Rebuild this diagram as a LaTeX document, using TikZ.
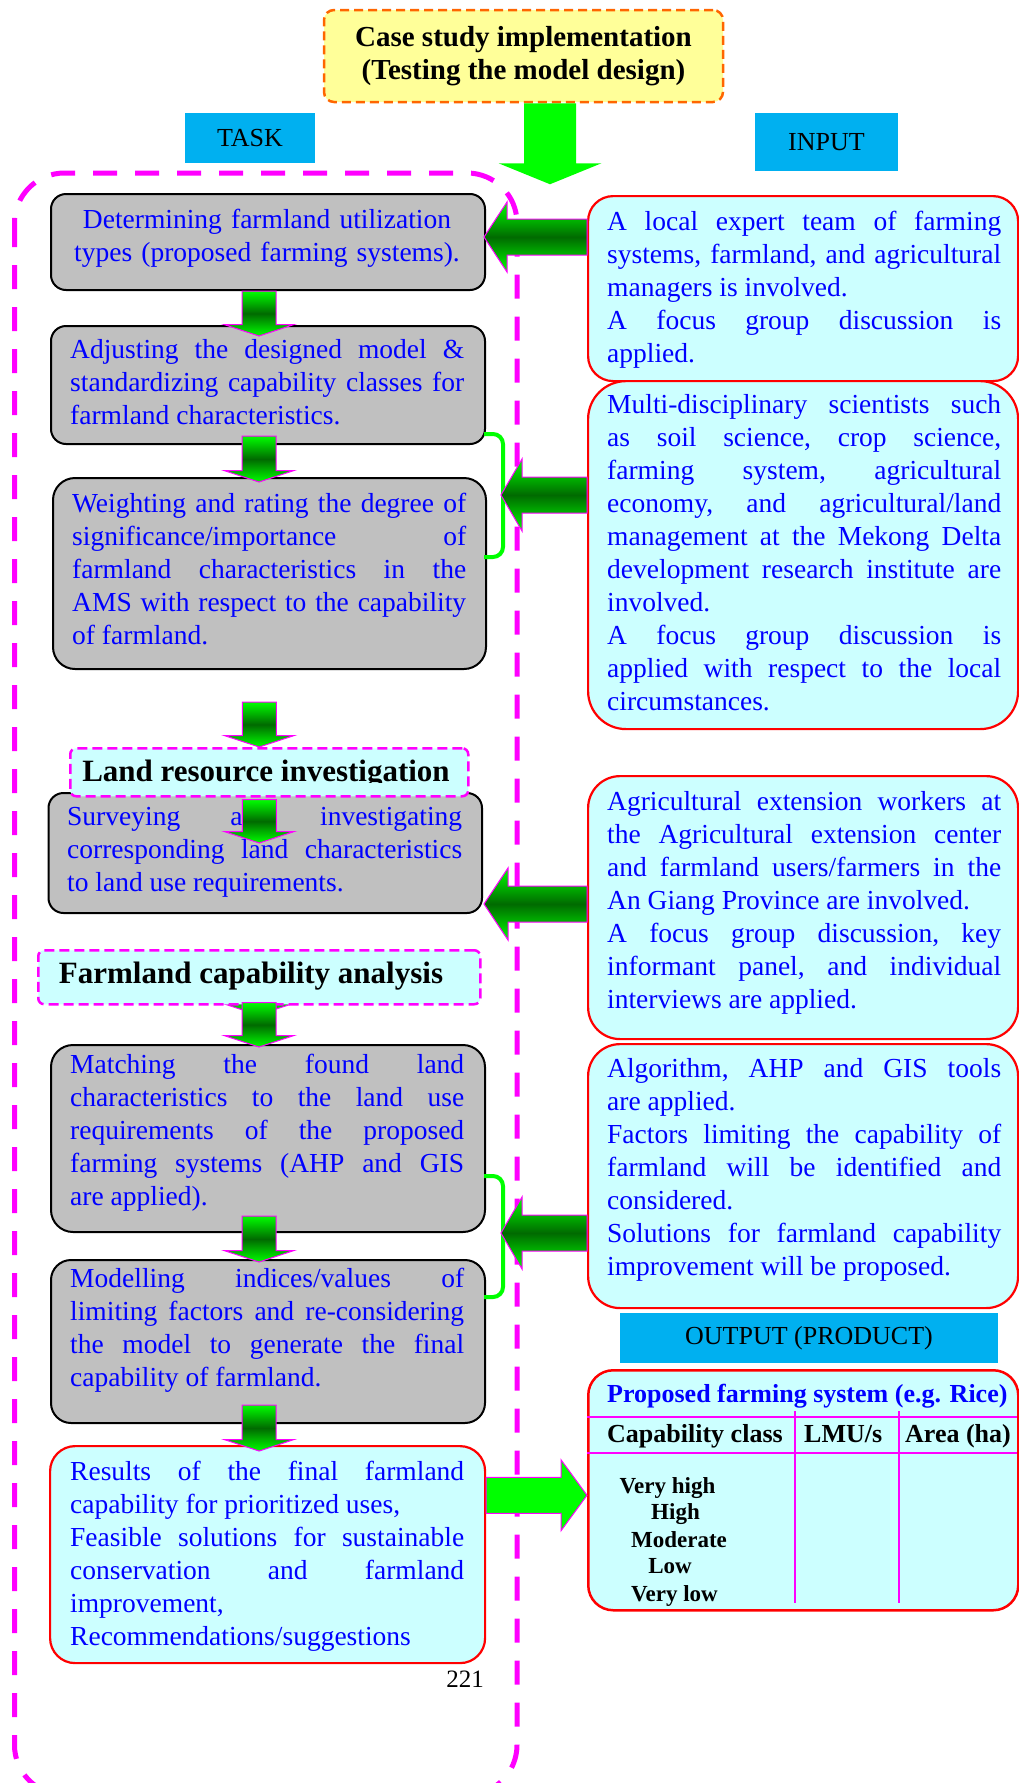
\documentclass[tikz,border=0pt]{standalone}
\usepackage{fontspec}
\setmainfont{Liberation Serif}
\usetikzlibrary{calc}

\definecolor{boxgray}{HTML}{C0C0C0}
\definecolor{paleCyan}{HTML}{CCFFFF}
\definecolor{labelBlue}{HTML}{00B0F0}
\definecolor{paleYellow}{HTML}{FFFF99}
\definecolor{dashOrange}{HTML}{FF6600}
\definecolor{brightGreen}{HTML}{00FF00}
\definecolor{deepGreen}{HTML}{006A00}
\definecolor{textBlue}{HTML}{0000FF}
\definecolor{frameMagenta}{HTML}{FF00FF}

\newcommand{\txtbody}{\fontsize{27.5}{33}\selectfont\frenchspacing\tolerance=10000\hbadness=10000\hyphenpenalty=10000}

% block arrow pointing down: style, top point, tip, shaft half width, head half width, head length
\newcommand{\fatdown}[6]{%
  \path[#1] let \p1=#2, \p2=#3 in
    (\x2-#4,\y1) -- (\x2+#4,\y1) -- (\x2+#4,\y2+#6) -- (\x2+#5,\y2+#6)
    -- (\x2,\y2) -- (\x2-#5,\y2+#6) -- (\x2-#4,\y2+#6) -- cycle;}
% block arrow pointing left: style, tail point, tip, shaft half width, head half width, head length
\newcommand{\fatleft}[6]{%
  \path[#1] let \p1=#2, \p2=#3 in
    (\x1,\y2+#4) -- (\x2+#6,\y2+#4) -- (\x2+#6,\y2+#5) -- (\x2,\y2)
    -- (\x2+#6,\y2-#5) -- (\x2+#6,\y2-#4) -- (\x1,\y2-#4) -- cycle;}
% block arrow pointing right
\newcommand{\fatright}[6]{%
  \path[#1] let \p1=#2, \p2=#3 in
    (\x1,\y2+#4) -- (\x2-#6,\y2+#4) -- (\x2-#6,\y2+#5) -- (\x2,\y2)
    -- (\x2-#6,\y2-#5) -- (\x2-#6,\y2-#4) -- (\x1,\y2-#4) -- cycle;}

\tikzset{
  outerframe/.style={draw=frameMagenta, line width=5pt, dash pattern=on 24pt off 18pt, rounded corners=50pt},
  topbox/.style={draw=dashOrange, line width=2.5pt, dash pattern=on 9pt off 5pt, fill=paleYellow,
    rounded corners=10pt, inner sep=0pt, align=center, font=\fontsize{29}{33}\selectfont\bfseries},
  tag/.style={fill=labelBlue, inner sep=0pt, font=\fontsize{26}{30}\selectfont},
  graybox/.style={draw=black, line width=2pt, fill=boxgray, rounded corners=15pt, inner sep=0pt, anchor=north west},
  inbox/.style={draw=red, line width=2.2pt, fill=paleCyan, inner sep=0pt, anchor=north west},
  phaselabel/.style={draw=frameMagenta, line width=2.5pt, dash pattern=on 10pt off 5pt, fill=paleCyan,
    rounded corners=6pt, inner sep=0pt, anchor=north west},
  phasetext/.style={anchor=base, inner sep=0pt, font=\fontsize{31}{36}\selectfont\bfseries},
  bodytxt/.style={anchor=base west, inner sep=0pt, text width=394pt, align=justify, text=textBlue, font=\txtbody},
  fatarrow/.style={draw=frameMagenta, line width=1pt, top color=brightGreen, bottom color=brightGreen, middle color=deepGreen},
  solidarrow/.style={draw=frameMagenta, line width=1pt, fill=brightGreen},
  solidgreen/.style={fill=brightGreen},
  bracket/.style={draw=brightGreen, line width=4pt, rounded corners=10pt},
  tablerule/.style={draw=frameMagenta, line width=1.6pt},
  headtext/.style={anchor=base west, inner sep=0pt, font=\fontsize{26}{30}\selectfont\bfseries},
  classtext/.style={anchor=base, inner sep=0pt, font=\fontsize{23}{27}\selectfont\bfseries},
}

\begin{document}
\begin{tikzpicture}[x=1pt,y=-1pt]
\useasboundingbox (0,0) rectangle (1019,1783);

% dashed frame around the task column
\draw[outerframe] (14.5,173) rectangle (517,1795);

% heading
\node[topbox, minimum width=399pt, minimum height=92pt] (casestudy) at (523.5,56)
  {Case study implementation\\(Testing the model design)};
\fatdown{solidgreen}{(casestudy.south)}{($(casestudy.south)+(26.5,81)$)}{26pt}{51.5pt}{21pt}

\node[tag, minimum width=130pt, minimum height=50pt] (task) at (250,138) {TASK};
\node[tag, minimum width=143pt, minimum height=58pt] (input) at (826.5,142) {INPUT};

% ---- task column ----
\node[graybox, minimum width=434pt, minimum height=96pt] (b1) at (50,193) {};
\node[bodytxt, anchor=base, align=center] (b1t) at (267,228)
  {Determining farmland utilization\\types (proposed farming systems).};

\node[graybox, minimum width=434pt, minimum height=118pt] (b2) at (50,325) {};
\node[bodytxt] (b2t) at (70,358)
  {Adjusting the designed model \&\linebreak standardizing capability classes for\linebreak farmland characteristics.};

\node[graybox, rounded corners=22pt, minimum width=433pt, minimum height=191pt] (b3) at (52,477) {};
\node[bodytxt] (b3t) at (72,512)
  {Weighting and rating the degree of\linebreak significance/importance of\linebreak farmland characteristics in the\linebreak AMS with respect to the capability\linebreak of farmland.};

\node[graybox, minimum width=433.5pt, minimum height=120pt] (b4) at (47.5,792) {};
\node[bodytxt, text width=395pt] (b4t) at (67,825)
  {Surveying and investigating\linebreak corresponding land characteristics\linebreak to land use requirements.};

\node[phaselabel, minimum width=398pt, minimum height=48pt] (lri) at (69,747) {};
\begin{scope}
  \clip (60,740) rectangle (480,782.5);
  \node[phasetext] (lrit) at (266,781) {Land resource investigation};
\end{scope}

% arrow head peeking out below the analysis label
\coordinate (hidTop) at (258,960);
\coordinate (hidTip) at (258,1015);
\fatdown{fatarrow}{(hidTop)}{(hidTip)}{17pt}{35pt}{11.5pt}

\node[phaselabel, minimum width=442pt, minimum height=54pt] (fca) at (37,949) {};
\node[phasetext] (fcat) at (251,983) {Farmland capability analysis};

\node[graybox, rounded corners=22pt, minimum width=434pt, minimum height=187pt] (b5) at (50,1044) {};
\node[bodytxt] (b5t) at (70,1073)
  {Matching the found land\linebreak characteristics to the land use\linebreak requirements of the proposed\linebreak farming systems (AHP and GIS\linebreak are applied).};

\node[graybox, rounded corners=20pt, minimum width=434pt, minimum height=163pt] (b6) at (50,1259) {};
\node[bodytxt] (b6t) at (70,1287)
  {Modelling indices/values of\linebreak limiting factors and re-considering\linebreak the model to generate the final\linebreak capability of farmland.};

\node[inbox, rounded corners=25pt, minimum width=435pt, minimum height=217pt] (res) at (49,1445) {};
\node[bodytxt] (rest) at (70,1480)
  {Results of the final farmland\linebreak capability for prioritized uses,\newline Feasible solutions for sustainable\linebreak conservation and farmland\linebreak improvement,\newline Recommendations/suggestions};

\node[anchor=base east, inner sep=0pt, font=\fontsize{25}{30}\selectfont] (pageno) at (484,1687) {221};

% ---- input column ----
\node[inbox, rounded corners=25pt, minimum width=430pt, minimum height=185pt] (i1) at (587,195) {};
\node[bodytxt] (i1t) at (607,230)
  {A local expert team of farming\linebreak systems, farmland, and agricultural\linebreak managers is involved.\newline A focus group discussion is\linebreak applied.};

\node[inbox, rounded corners=38pt, minimum width=430pt, minimum height=348pt] (i2) at (587,380) {};
\node[bodytxt] (i2t) at (607,413)
  {Multi-disciplinary scientists such\linebreak as soil science, crop science,\linebreak farming system, agricultural\linebreak economy, and agricultural/land\linebreak management at the Mekong Delta\linebreak development research institute are\linebreak involved.\newline A focus group discussion is\linebreak applied with respect to the local\linebreak circumstances.};

\node[inbox, rounded corners=32pt, minimum width=430pt, minimum height=263pt] (i3) at (587,775) {};
\node[bodytxt] (i3t) at (607,810)
  {Agricultural extension workers at\linebreak the Agricultural extension center\linebreak and farmland users/farmers in the\linebreak An Giang Province are involved.\newline A focus group discussion, key\linebreak informant panel, and individual\linebreak interviews are applied.};

\node[inbox, rounded corners=32pt, minimum width=430pt, minimum height=264pt] (i4) at (587,1043) {};
\node[bodytxt] (i4t) at (607,1077)
  {Algorithm, AHP and GIS tools\linebreak are applied.\newline Factors limiting the capability of\linebreak farmland will be identified and\linebreak considered.\newline Solutions for farmland capability\linebreak improvement will be proposed.};

% ---- output ----
\node[tag, minimum width=378pt, minimum height=50pt] (output) at (809,1338) {OUTPUT (PRODUCT)};
\node[inbox, line width=2.5pt, rounded corners=25pt, minimum width=430pt, minimum height=240pt] (tbl) at (587,1369) {};
\draw[tablerule] (587,1417) -- (1017,1417);
\draw[tablerule] (587,1453) -- (1017,1453);
\draw[tablerule] (795,1411) -- (795,1603);
\draw[tablerule] (899,1411) -- (899,1603);
\node[headtext, text=textBlue] (tblhead) at (607,1402) {Proposed farming system (e.g. Rice)};
\node[headtext] (colA) at (607,1442) {Capability class};
\node[headtext] (colB) at (804,1442) {LMU/s};
\node[headtext] (colC) at (905,1442) {Area (ha)};
\node[classtext] (c1) at (667.5,1493) {Very high};
\node[classtext] (c2) at (675.5,1519) {High};
\node[classtext] (c3) at (679,1547) {Moderate};
\node[classtext] (c4) at (670,1573) {Low};
\node[classtext] (c5) at (674.5,1601) {Very low};

% ---- flow arrows down the task column ----
\fatdown{fatarrow}{(b1.south)}{($(b2.north)+(-9,11)$)}{17pt}{35pt}{11.5pt}
\fatdown{fatarrow}{($(b2.south)+(0,-9)$)}{($(b3.north)+(-10.5,5)$)}{17pt}{35pt}{11.5pt}
\fatdown{fatarrow}{($(b3.south)+(0,32)$)}{($(lri.north)+(-10,0)$)}{17pt}{35pt}{11.5pt}
\fatdown{fatarrow}{($(lri.south)+(0,2)$)}{($(b4.north)+(-6,51)$)}{17pt}{35pt}{11.5pt}
\fatdown{fatarrow}{($(fca.south)+(0,-3)$)}{($(b5.north)+(-9,3)$)}{17pt}{35pt}{11.5pt}
\fatdown{fatarrow}{($(b5.south)+(0,-17)$)}{($(b6.north)+(-9,3)$)}{17pt}{35pt}{11.5pt}
\fatdown{fatarrow}{($(b6.south)+(0,-19)$)}{($(res.north)+(-8.5,6)$)}{17pt}{35pt}{11.5pt}

% brackets grouping paired steps
\draw[bracket] (484,434) -- (503,434) -- (503,557) -- (484,557);
\draw[bracket] (484,1176) -- (503,1176) -- (503,1297) -- (484,1297);

% ---- input arrows ----
\coordinate (t1) at (484,237);
\coordinate (t2) at (501,495);
\coordinate (t3) at (484,904);
\coordinate (t4) at (501,1233);
\fatleft{fatarrow}{(i1.west)}{(t1)}{18pt}{35pt}{23pt}
\fatleft{fatarrow}{(i2.west)}{(t2)}{18pt}{36pt}{21pt}
\fatleft{fatarrow}{(i3.west)}{(t3)}{18pt}{36pt}{24pt}
\fatleft{fatarrow}{(i4.west)}{(t4)}{18pt}{36pt}{21pt}

% ---- result to output ----
\fatright{solidarrow}{(res.east)}{($(tbl.west)+(0,5)$)}{18pt}{35.5pt}{26pt}

\end{tikzpicture}
\end{document}
